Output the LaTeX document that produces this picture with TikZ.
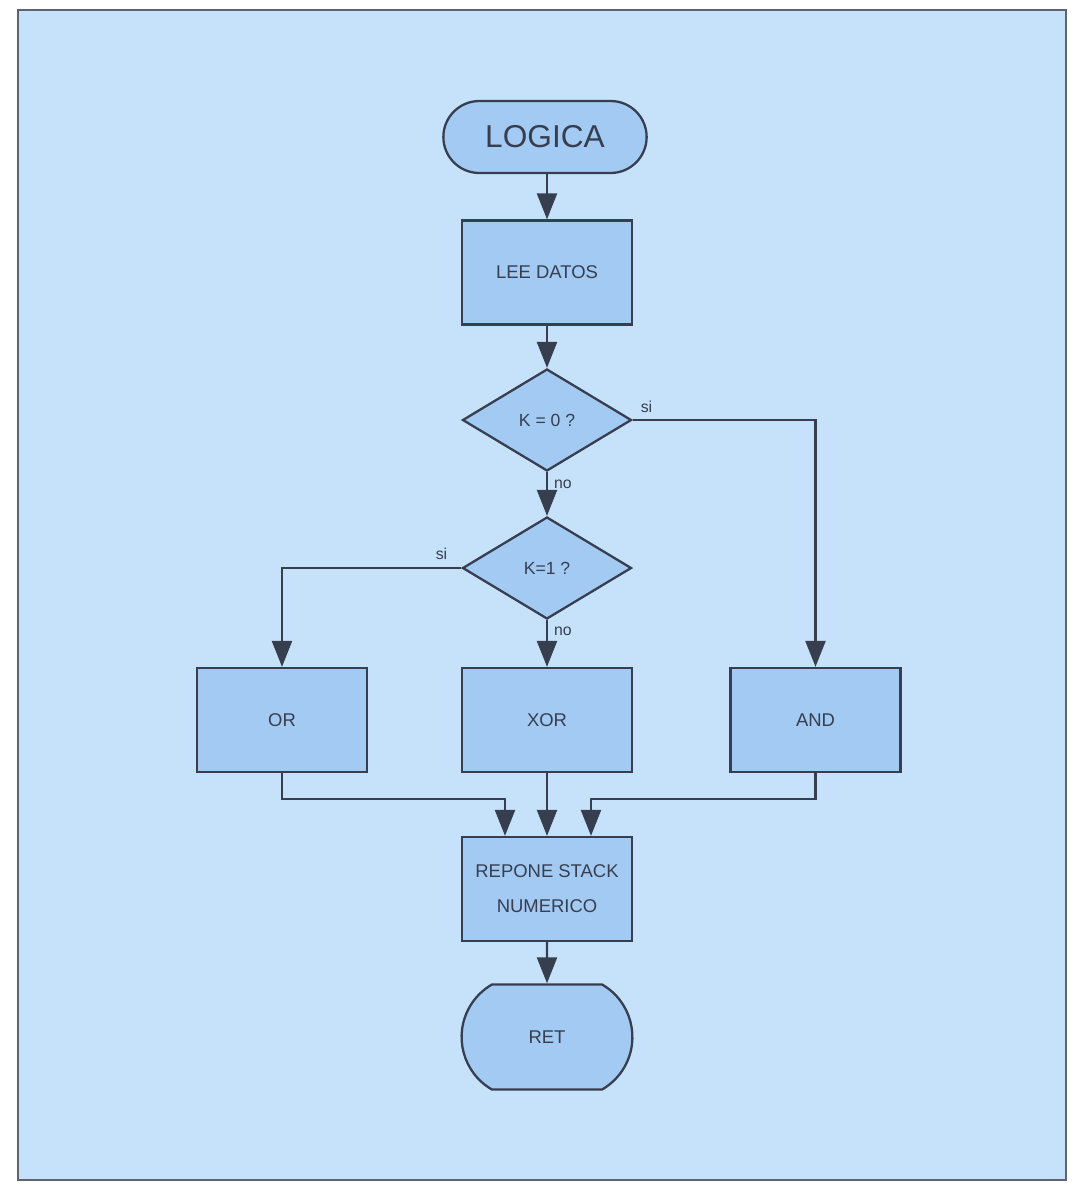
\documentclass[tikz,border=0pt]{standalone}
\usepackage{fontspec}
\setmainfont{Liberation Sans}
\usepackage{tikz}
\usetikzlibrary{arrows.meta,positioning,shapes.geometric,shapes.misc}
\definecolor{paperblue}{RGB}{198,226,250}
\definecolor{boxblue}{RGB}{162,202,242}
\definecolor{inkgray}{RGB}{55,62,80}
\definecolor{framegray}{RGB}{95,100,110}

\begin{document}
\begin{tikzpicture}[
    terminal/.style={draw=inkgray, line width=1.3pt, fill=boxblue, rounded rectangle, minimum width=4.3cm, minimum height=1.44cm, text=inkgray, font=\fontsize{18}{20}\selectfont},
    process/.style={draw=inkgray, line width=1.3pt, fill=boxblue, minimum width=3.4cm, minimum height=2.08cm, align=center, text=inkgray, font=\fontsize{10.5}{20}\selectfont},
    decision/.style={draw=inkgray, line width=1.3pt, fill=boxblue, diamond, inner sep=0pt, minimum width=3.38cm, minimum height=2.04cm, text=inkgray, font=\fontsize{10}{12}\selectfont},
    flow/.style={draw=inkgray, line width=1.3pt, -{Triangle[length=0.52cm, width=0.4cm]}},
    answer/.style={text=inkgray, inner sep=1pt, font=\fontsize{9}{10}\selectfont},
]
    \useasboundingbox (0,0) rectangle (21.44,-23.66);

    % Frame
    \draw[draw=framegray, line width=1.4pt, fill=paperblue] (0.36,-0.2) rectangle (21.32,-23.6);

    % Start and input
    \node[terminal] (logica) at (10.9,-2.74) {LOGICA};
    \node[process] (lee) at (10.94,-5.45) {LEE DATOS};

    % Decisions
    \node[decision] (k0) at (10.94,-8.4) {K = 0 ?};
    \node[decision] (k1) at (10.94,-11.36) {K=1 ?};

    % Operations
    \node[process] (or) at (5.64,-14.4) {OR};
    \node[process] (xor) at (10.94,-14.4) {XOR};
    \node[process] (and) at (16.31,-14.4) {AND};

    % End
    \node[process] (repone) at (10.94,-17.78) {REPONE STACK\\NUMERICO};
    \node[terminal, rounded rectangle arc length=120, minimum width=3.65cm, minimum height=2.1cm, font=\fontsize{10.5}{12}\selectfont] (ret) at (10.94,-20.74) {RET};

    % Answers
    \node[answer, above right=0.1cm and 0.12cm of k0.east] (k0si) {si};
    \node[answer, below right=0.12cm and 0.1cm of k0.south] (k0no) {no};
    \node[answer, above left=0.12cm and 0.24cm of k1.west] (k1si) {si};
    \node[answer, below right=0.1cm and 0.1cm of k1.south] (k1no) {no};

    % Arrows
    \draw[flow] (logica.south -| lee.north) -- (lee);
    \draw[flow] (lee) -- (k0);
    \draw[flow] (k0) -- (k1);
    \draw[flow] (k0.east) -| (and.north);
    \draw[flow] (k1.west) -| (or.north);
    \draw[flow] (k1) -- (xor);
    \draw[flow] (or.south) -- ++(0,-0.52) -| ([xshift=-0.84cm]repone.north);
    \draw[flow] (xor) -- (repone);
    \draw[flow] (and.south) -- ++(0,-0.52) -| ([xshift=0.88cm]repone.north);
    \draw[flow] (repone) -- (ret);
\end{tikzpicture}
\end{document}
